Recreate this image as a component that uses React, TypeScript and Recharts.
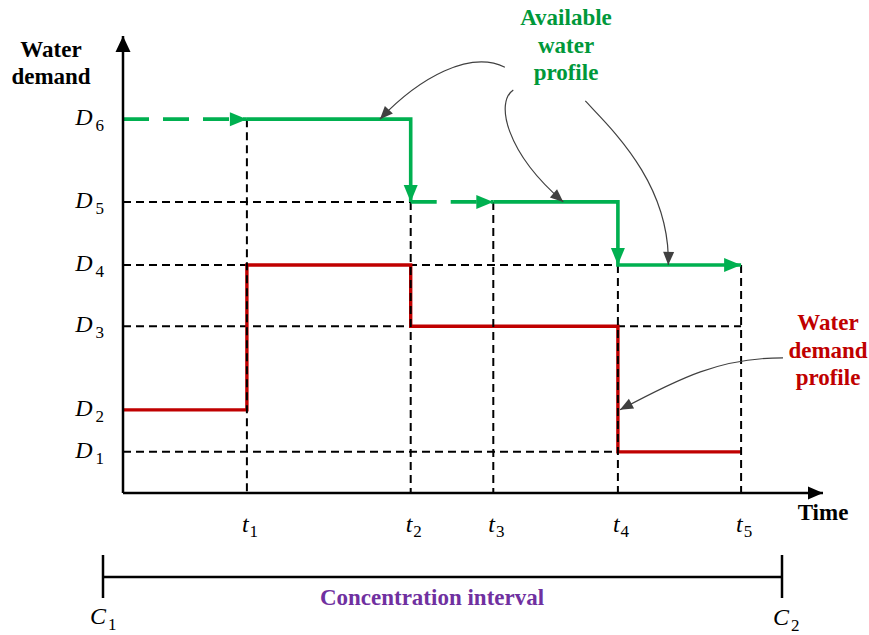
import React from "react";
import { ComposedChart, Line, XAxis, YAxis, ReferenceDot } from "recharts";

// time marks t1..t5 and demand levels D1..D6 (axis units 0..100)
const tValues = [17.7, 41.1, 52.9, 70.7, 88.3];
const tNames = ["1", "2", "3", "4", "5"];
const dValues = [9.0, 18.2, 36.5, 49.9, 63.7, 81.8];
const dNames = ["1", "2", "3", "4", "5", "6"];

const [t1, t2, t3, t4, t5] = tValues;
const [d1, d2, d3, d4, d5, d6] = dValues;

// water demand profile (red, step after)
const demandProfile = [
  { x: 0, y: d2 },
  { x: t1, y: d4 },
  { x: t2, y: d3 },
  { x: t4, y: d1 },
  { x: t5, y: d1 },
];

// available water profile (green)
const availableDashed = [
  [{ x: 0, y: d6 }, { x: t1, y: d6 }],
  [{ x: t2, y: d5 }, { x: t3, y: d5 }],
];
const availableSolid = [
  [{ x: t1, y: d6 }, { x: t2, y: d6 }, { x: t2, y: d5 }],
  [{ x: t3, y: d5 }, { x: t4, y: d5 }, { x: t4, y: d4 }, { x: t5, y: d4 }],
];
const availableArrows = [
  { x: t1, y: d6, angle: 0 },
  { x: t2, y: d5, angle: 90 },
  { x: t3, y: d5, angle: 0 },
  { x: t4, y: d4, angle: 90 },
  { x: t5, y: d4, angle: 0 },
];

// black dashed guide lines
const guidesH = [
  { y: d5, to: t2 },
  { y: d4, to: t4 },
  { y: d3, to: t5 },
  { y: d1, to: t4 },
];
const guidesV = [
  { x: t1, to: d6 },
  { x: t2, to: d5 },
  { x: t3, to: d5 },
  { x: t4, to: d4 },
  { x: t5, to: d4 },
];

// callout curves: tip in axis units, curve start/controls as pixel offsets from tip
const callouts = [
  { x: 36.7, y: d6, s: [125, -52], c1: [90, -69], c2: [40, -42] },
  { x: 62.9, y: d5, s: [-50, -112], c1: [-68, -100], c2: [-58, -50] },
  { x: 77.9, y: d4, s: [-83, -164], c1: [-58, -137], c2: [2, -82] },
  { x: t4 + 0.3, y: d2, s: [163, -52], c1: [100, -52], c2: [60, -32] },
];

const SERIF = "'Liberation Serif', 'Times New Roman', serif";
const GREEN = "#00b050";
const RED = "#c00000";
const GREY = "#404040";

function Arrowhead({ cx, cy, angle, len, wid, fill }: any) {
  const a = (angle * Math.PI) / 180;
  const cos = Math.cos(a);
  const sin = Math.sin(a);
  const p = (dx: number, dy: number) =>
    `${cx + dx * cos - dy * sin},${cy + dx * sin + dy * cos}`;
  return (
    <polygon
      points={`${p(0, 0)} ${p(-len, wid / 2)} ${p(-len, -wid / 2)}`}
      fill={fill}
    />
  );
}

function Callout({ cx, cy, s, c1, c2 }: any) {
  const angle = (Math.atan2(-c2[1], -c2[0]) * 180) / Math.PI;
  const d = `M${cx + s[0]},${cy + s[1]} C${cx + c1[0]},${cy + c1[1]} ${cx + c2[0]},${cy + c2[1]} ${cx},${cy}`;
  return (
    <g>
      <path d={d} fill="none" stroke={GREY} strokeWidth={1.2} />
      <Arrowhead cx={cx} cy={cy} angle={angle} len={13} wid={11} fill={GREY} />
    </g>
  );
}

function TimeTick({ x, y, payload }: any) {
  const i = tValues.indexOf(payload.value);
  return (
    <text x={x - 5} y={y + 39} style={{ fontFamily: SERIF }} fill="#000">
      <tspan fontStyle="italic" fontSize={24}>t</tspan>
      <tspan fontSize={17} dx={1} dy={5}>{tNames[i]}</tspan>
    </text>
  );
}

function DemandTick({ x, y, payload }: any) {
  const i = dValues.indexOf(payload.value);
  return (
    <text x={x - 19} y={y + 6} textAnchor="end" style={{ fontFamily: SERIF }} fill="#000">
      <tspan fontStyle="italic" fontSize={24}>D</tspan>
      <tspan fontSize={17} dx={3} dy={6}>{dNames[i]}</tspan>
    </text>
  );
}

function Label({ x, y, fill, children }: any) {
  return (
    <text
      x={x}
      y={y}
      fill={fill}
      textAnchor="middle"
      style={{ fontFamily: SERIF, fontWeight: 700, fontSize: 23 }}
    >
      {children}
    </text>
  );
}

export default function App() {
  return (
    <div
      style={{
        position: "absolute",
        left: 0,
        top: 0,
        width: 869,
        height: 635,
        background: "#fff",
      }}
    >
      <ComposedChart
        width={869}
        height={635}
        margin={{ top: 36, right: 46, left: 63, bottom: 92 }}
      >
        <XAxis
          dataKey="x"
          type="number"
          domain={[0, 100]}
          ticks={tValues}
          interval={0}
          tick={<TimeTick />}
          tickLine={false}
          tickSize={0}
          tickMargin={0}
          height={50}
          axisLine={{ stroke: "#000", strokeWidth: 2.5 }}
          allowDataOverflow
        />
        <YAxis
          type="number"
          domain={[0, 100]}
          ticks={dValues}
          interval={0}
          tick={<DemandTick />}
          tickLine={false}
          tickSize={0}
          tickMargin={0}
          width={60}
          axisLine={{ stroke: "#000", strokeWidth: 2.5 }}
          allowDataOverflow
        />

        {/* horizontal guides */}
        {guidesH.map((g, i) => (
          <Line
            key={`gh${i}`}
            data={[{ x: 0, y: g.y }, { x: g.to, y: g.y }]}
            dataKey="y"
            stroke="#000"
            strokeWidth={2}
            strokeDasharray="8 5"
            dot={false}
            activeDot={false}
            isAnimationActive={false}
          />
        ))}

        {/* water demand profile */}
        <Line
          data={demandProfile}
          dataKey="y"
          type="stepAfter"
          stroke={RED}
          strokeWidth={3.4}
          dot={false}
          activeDot={false}
          isAnimationActive={false}
        />

        {/* vertical guides */}
        {guidesV.map((g, i) => (
          <Line
            key={`gv${i}`}
            data={[{ x: g.x, y: g.to }, { x: g.x, y: 0 }]}
            dataKey="y"
            stroke="#000"
            strokeWidth={2}
            strokeDasharray="8 5"
            dot={false}
            activeDot={false}
            isAnimationActive={false}
          />
        ))}

        {/* available water profile */}
        {availableDashed.map((seg, i) => (
          <Line
            key={`ad${i}`}
            data={seg}
            dataKey="y"
            stroke={GREEN}
            strokeWidth={3.6}
            strokeDasharray="26 14"
            dot={false}
            activeDot={false}
            isAnimationActive={false}
          />
        ))}
        {availableSolid.map((seg, i) => (
          <Line
            key={`as${i}`}
            data={seg}
            dataKey="y"
            stroke={GREEN}
            strokeWidth={3.6}
            dot={false}
            activeDot={false}
            isAnimationActive={false}
          />
        ))}
        {availableArrows.map((a, i) => (
          <ReferenceDot
            key={`aa${i}`}
            x={a.x}
            y={a.y}
            r={0}
            ifOverflow="visible"
            shape={(p: any) => (
              <Arrowhead cx={p.cx} cy={p.cy} angle={a.angle} len={17} wid={14} fill={GREEN} />
            )}
          />
        ))}

        {/* axis arrowheads */}
        <ReferenceDot
          x={0}
          y={100}
          r={0}
          ifOverflow="visible"
          shape={(p: any) => (
            <Arrowhead cx={p.cx} cy={p.cy} angle={-90} len={16} wid={15} fill="#000" />
          )}
        />
        <ReferenceDot
          x={100}
          y={0}
          r={0}
          ifOverflow="visible"
          shape={(p: any) => (
            <Arrowhead cx={p.cx} cy={p.cy} angle={0} len={15} wid={13} fill="#000" />
          )}
        />

        {/* callouts */}
        {callouts.map((c, i) => (
          <ReferenceDot
            key={`co${i}`}
            x={c.x}
            y={c.y}
            r={0}
            ifOverflow="visible"
            shape={(p: any) => <Callout cx={p.cx} cy={p.cy} s={c.s} c1={c.c1} c2={c.c2} />}
          />
        ))}
      </ComposedChart>

      <svg
        width={869}
        height={635}
        style={{ position: "absolute", left: 0, top: 0, pointerEvents: "none" }}
      >
        <Label x={51} y={57} fill="#000">Water</Label>
        <Label x={51} y={84} fill="#000">demand</Label>
        <Label x={823} y={520} fill="#000">Time</Label>
        <Label x={566} y={25} fill="#00983a">Available</Label>
        <Label x={566} y={53} fill="#00983a">water</Label>
        <Label x={566} y={80} fill="#00983a">profile</Label>
        <Label x={828} y={330} fill={RED}>Water</Label>
        <Label x={828} y={358} fill={RED}>demand</Label>
        <Label x={828} y={385} fill={RED}>profile</Label>
        <Label x={432} y={605} fill="#7030a0">Concentration interval</Label>

        {/* concentration interval bracket */}
        <line x1={103} y1={577} x2={782} y2={577} stroke="#000" strokeWidth={2.5} />
        <line x1={103} y1={555} x2={103} y2={598} stroke="#000" strokeWidth={2.5} />
        <line x1={782} y1={555} x2={782} y2={598} stroke="#000" strokeWidth={2.5} />
        <text x={90} y={624} fill="#000" style={{ fontFamily: SERIF }}>
          <tspan fontStyle="italic" fontSize={24}>C</tspan>
          <tspan fontSize={17} dx={2} dy={6}>1</tspan>
        </text>
        <text x={773} y={625} fill="#000" style={{ fontFamily: SERIF }}>
          <tspan fontStyle="italic" fontSize={24}>C</tspan>
          <tspan fontSize={17} dx={2} dy={6}>2</tspan>
        </text>
      </svg>
    </div>
  );
}
